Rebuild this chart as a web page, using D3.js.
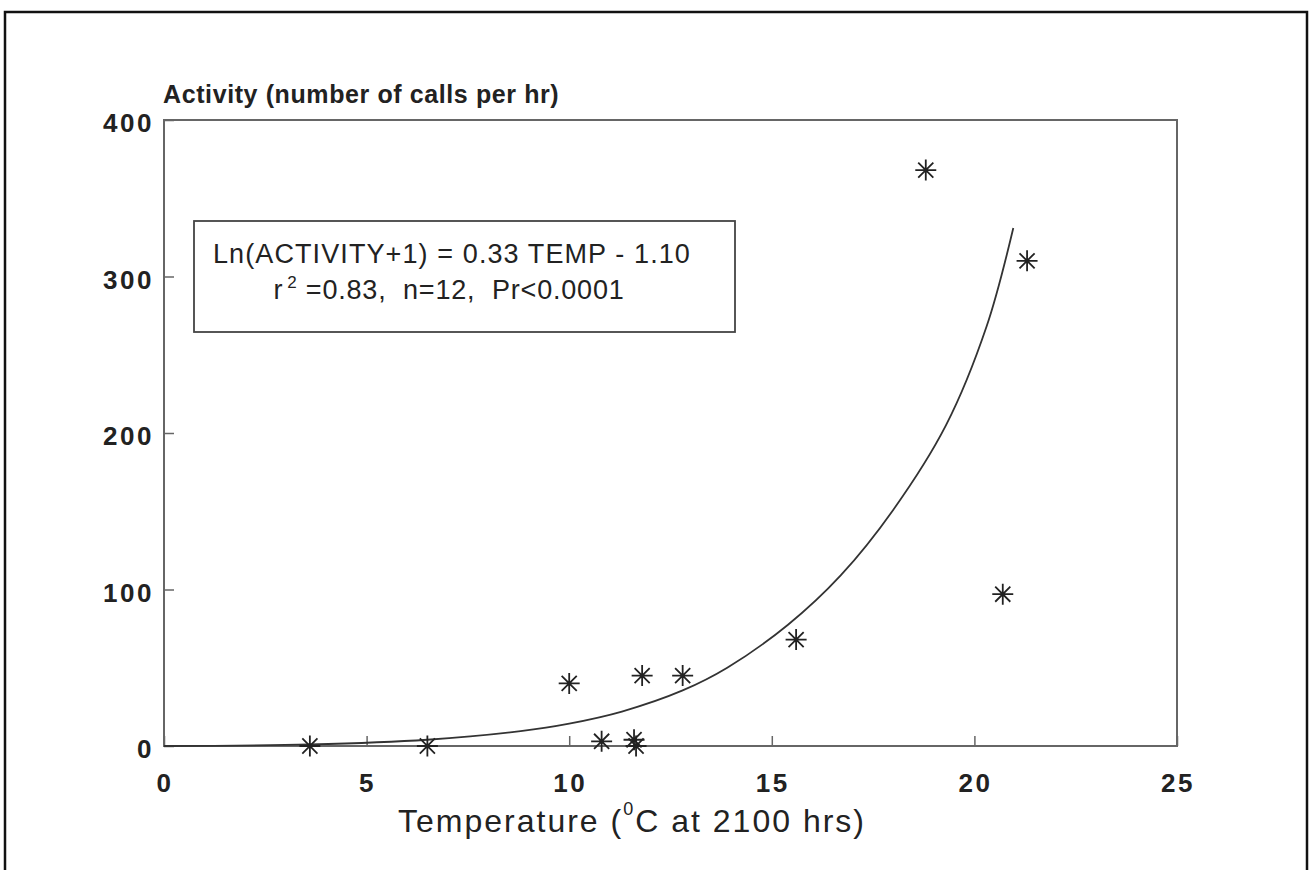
<!DOCTYPE html>
<html><head><meta charset="utf-8">
<script src="https://cdn.jsdelivr.net/npm/d3@7/dist/d3.min.js"></script>
<style>body{margin:0;background:#fff}svg{display:block}text{font-family:"Liberation Sans",Arial,Helvetica,sans-serif;fill:#222;white-space:pre}</style>
</head><body><svg id="c" width="1312" height="870"></svg>
<script>
// Data
const temperature = [3.6, 6.5, 10.0, 10.8, 11.6, 11.65, 11.8, 12.8, 15.6, 18.8, 20.7, 21.3];
const activity    = [0,   0,   40,   3,    4,    0,     45,   45,   68,   368,  97,   310];
const xTicks = [0, 5, 10, 15, 20, 25];
const yTicks = [0, 100, 200, 300, 400];
// Fitted curve as drawn in the figure
const curveTemp     = [0, 3.6, 6.5, 8.8, 10.0, 11.3, 12.8, 13.9, 15.4, 16.7, 18.0, 19.3, 20.3, 20.96];
const curveActivity = [0, 1,   4,   9.5, 14.3, 22,   35.5, 50,   77.5, 109,  151,  205,  268,  331];
const eqLine1 = "Ln(ACTIVITY+1) = 0.33 TEMP - 1.10";
const eqLine2a = "r", eqLine2sup = "2", eqLine2b = " =0.83,  n=12,  Pr<0.0001";

const svg = d3.select("#c");
// outer frame
svg.append("rect").attr("x",5).attr("y",12).attr("width",1302).attr("height",870)
  .attr("fill","none").attr("stroke","#111").attr("stroke-width",2.5);

const x = d3.scaleLinear().domain([0,25]).range([164,1177]);
const y = d3.scaleLinear().domain([0,400]).range([746,120]);

// plot frame
svg.append("rect").attr("x",x(0)).attr("y",y(400)).attr("width",x(25)-x(0)).attr("height",y(0)-y(400))
  .attr("fill","none").attr("stroke","#666").attr("stroke-width",2);

// y axis ticks (inward) and labels
const ya = svg.append("g").attr("transform",`translate(${x(0)},0)`)
  .call(d3.axisRight(y).tickValues(yTicks).tickSize(10).tickFormat(""));
ya.select(".domain").remove();
ya.selectAll("line").attr("stroke","#666").attr("stroke-width",1.5);
svg.append("g").selectAll("text").data(yTicks).join("text")
  .attr("x",154).attr("y",d=>y(d)+12).attr("text-anchor","end")
  .attr("font-size",26).attr("font-weight","bold").attr("letter-spacing",2.5).attr("fill","#2a2a2a").text(d=>d);

// x axis ticks (inward) and labels
const xa = svg.append("g").attr("transform",`translate(0,${y(0)})`)
  .call(d3.axisTop(x).tickValues(xTicks).tickSize(10).tickFormat(""));
xa.select(".domain").remove();
xa.selectAll("line").attr("stroke","#666").attr("stroke-width",1.5);
svg.append("g").selectAll("text").data(xTicks).join("text")
  .attr("x",d=>x(d)+1).attr("y",792).attr("text-anchor","middle")
  .attr("font-size",26).attr("font-weight","bold").attr("letter-spacing",2.5).attr("fill","#2a2a2a").text(d=>d);

// titles
svg.append("text").attr("x",163).attr("y",103).attr("font-size",25).attr("font-weight","bold")
  .attr("letter-spacing",0.6).attr("fill","#2a2a2a").text("Activity (number of calls per hr)");
const xt = svg.append("text").attr("x",632).attr("y",832).attr("text-anchor","middle").attr("font-size",32)
  .attr("letter-spacing",2).attr("fill","#222");
xt.append("tspan").text("Temperature (");
xt.append("tspan").attr("font-size",18).attr("dy",-17).text("0");
xt.append("tspan").attr("dy",17).text("C at 2100 hrs)");

// fitted curve
const cpts = curveTemp.map((t,i)=>[t, curveActivity[i]]);
const line = d3.line().x(d=>x(d[0])).y(d=>y(d[1])).curve(d3.curveCatmullRom.alpha(0.5));
svg.append("path").datum(cpts).attr("d",line).attr("fill","none").attr("stroke","#333").attr("stroke-width",1.8);

// equation box
svg.append("rect").attr("x",194).attr("y",221).attr("width",541).attr("height",111)
  .attr("fill","#fff").attr("stroke","#444").attr("stroke-width",1.8);
svg.append("text").attr("x",452).attr("y",263).attr("text-anchor","middle").attr("font-size",27)
  .attr("letter-spacing",1.1).attr("fill","#222").text(eqLine1);
const l2 = svg.append("text").attr("x",449).attr("y",299).attr("text-anchor","middle").attr("font-size",27)
  .attr("letter-spacing",0.8).attr("fill","#222");
l2.append("tspan").text(eqLine2a);
l2.append("tspan").attr("font-size",17).attr("dy",-11).attr("dx",4).text(eqLine2sup);
l2.append("tspan").attr("dy",11).text(eqLine2b);

// star markers
const pts = temperature.map((t,i)=>({t, a: activity[i]}));
const r = 10.5;
const k = r*0.72;
const star = `M${-r},0L${r},0M0,${-r}L0,${r}M${-k},${-k}L${k},${k}M${-k},${k}L${k},${-k}`;
svg.append("g").selectAll("path").data(pts).join("path")
  .attr("transform",d=>`translate(${x(d.t)},${y(d.a)})`).attr("d",star)
  .attr("stroke","#222").attr("stroke-width",1.8).attr("fill","none");
</script></body></html>
